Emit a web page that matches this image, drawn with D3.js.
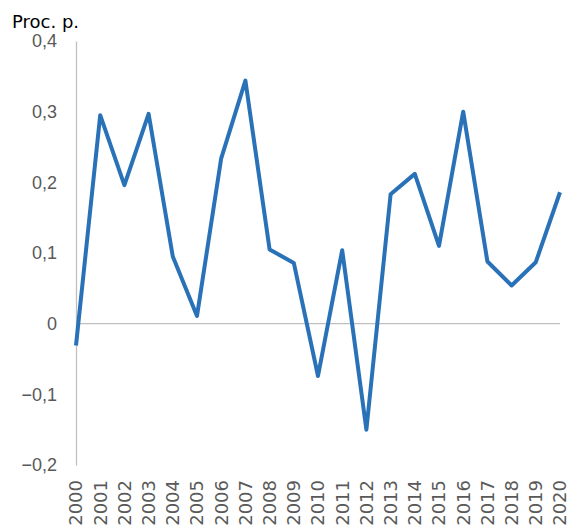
<!DOCTYPE html>
<html>
<head>
<meta charset="utf-8">
<script src="https://cdn.jsdelivr.net/npm/d3@7"></script>
<style>
  body { margin: 0; background: #fff; }
  svg { display: block; font-family: "DejaVu Sans", Verdana, sans-serif; }
</style>
</head>
<body>
<svg id="chart" width="568" height="527"></svg>
<script>
// years and values
var years = ["2000", "2001", "2002", "2003", "2004", "2005", "2006", "2007", "2008", "2009", "2010",
  "2011", "2012", "2013", "2014", "2015", "2016", "2017", "2018", "2019", "2020"];
var values = [-0.031, 0.295, 0.196, 0.297, 0.095, 0.011, 0.234, 0.344, 0.105, 0.086, -0.074,
  0.104, -0.150, 0.183, 0.212, 0.110, 0.300, 0.088, 0.054, 0.087, 0.186];
var yTicks = [-0.2, -0.1, 0, 0.1, 0.2, 0.3, 0.4];
var unitLabel = "Proc. p.";

var svg = d3.select("#chart");

var x = d3.scalePoint().domain(years).range([76, 560]);
var y = d3.scaleLinear().domain([-0.2, 0.4]).range([465, 41]);

//tick label like 0,1 and −0,1
function fmt(d) {
  if (d === 0) return "0";
  return d3.format(".1f")(d).replace(".", ",").replace("-", "\u2212");
}

// y axis
var yAxis = svg.append("g")
  .attr("transform", "translate(76,0)")
  .call(d3.axisLeft(y).tickValues(yTicks).tickFormat(fmt).tickSize(0).tickPadding(19));
yAxis.select(".domain").attr("stroke", "#bfbfbf").attr("stroke-width", 1.3);
yAxis.selectAll("text")
  .attr("fill", "#595959")
  .style("font-size", "18px");

// zero line
svg.append("line")
  .attr("x1", x("2000"))
  .attr("x2", x("2020"))
  .attr("y1", y(0))
  .attr("y2", y(0))
  .attr("stroke", "#bfbfbf")
  .attr("stroke-width", 1.3);

// year labels, rotated (the bottom edge cuts them a little, as in the original)
svg.append("g")
  .selectAll("text")
  .data(years)
  .join("text")
  .attr("transform", function(d) { return "translate(" + x(d) + ",480) rotate(-90)"; })
  .attr("text-anchor", "end")
  .attr("dy", "0.36em")
  .attr("fill", "#595959")
  .style("font-size", "18px")
  .text(function(d) { return d; });

// the line
var line = d3.line()
  .x(function(d, i) { return x(years[i]); })
  .y(function(d) { return y(d); });

svg.append("path")
  .datum(values)
  .attr("d", line)
  .attr("fill", "none")
  .attr("stroke", "#2a72b8")
  .attr("stroke-width", 4)
  .attr("stroke-linejoin", "round")
  .attr("stroke-linecap", "butt");

// unit label
svg.append("text")
  .attr("x", 12)
  .attr("y", 27.5)
  .attr("fill", "#000")
  .style("font-size", "18px")
  .text(unitLabel);
</script>
</body>
</html>
